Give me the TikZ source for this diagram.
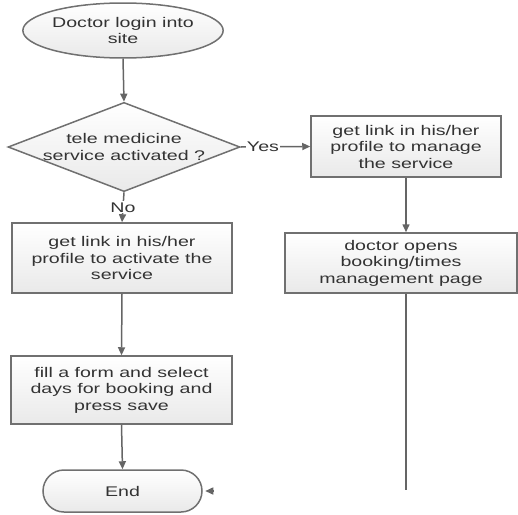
\documentclass[tikz,border=0pt]{standalone}
\usepackage{fontspec}
\usetikzlibrary{shapes.geometric,arrows.meta,calc}
\newfontfamily\wf[FakeStretch=1.4]{Liberation Sans}
\definecolor{edge}{HTML}{707070}
\definecolor{txt}{HTML}{333333}
\definecolor{fillb}{HTML}{E9E9E9}
\tikzset{
  base/.style={draw=edge, line width=1.5pt, top color=white, bottom color=fillb,
    text=txt, font=\wf\fontsize{14}{16.5}\selectfont, align=center, inner sep=0pt},
  procbox/.style={base, rectangle},
  startshape/.style={base, ellipse},
  decshape/.style={base, diamond, aspect=2.6},
  endshape/.style={base, rectangle, rounded corners=21pt},
  conn/.style={draw=edge!90!black, line width=1.5pt, -{Triangle[length=8pt,width=7pt]}},
  plainconn/.style={draw=edge!90!black, line width=1.5pt},
  lbl/.style={fill=white, text=txt, font=\wf\fontsize{14}{16}\selectfont, inner sep=1pt}
}
\begin{document}
\begin{tikzpicture}[x=1pt,y=-1pt]
\useasboundingbox (0,0) rectangle (518,514);
\node[startshape, minimum width=195pt, minimum height=55pt] (start) at (123,30.5) {Doctor login into\\site};
\node[decshape, minimum width=218pt, minimum height=83pt] (dec) at (124,147) {tele medicine\\service activated ?};
\node[procbox, minimum width=220pt, minimum height=70pt] (act) at (122,258) {get link in his/her\\profile to activate the\\service};
\node[procbox, minimum width=221pt, minimum height=68pt] (form) at (121.5,390) {fill a form and select\\days for booking and\\press save};
\node[endshape, minimum width=159pt, minimum height=42pt] (end) at (122.5,491) {End};
\node[procbox, minimum width=190pt, minimum height=61pt] (manage) at (406,146.5) {get link in his/her\\profile to manage\\the service};
\node[procbox, minimum width=232pt, minimum height=60pt] (opens) at (401,263) {doctor opens\\booking/times\\management page};
\coordinate (rend) at (406,490);
\coordinate (tipstart) at (213.5,491);

\draw[conn] (start.south) -- (dec.north);
\draw[conn] (dec.south) -- node[lbl, pos=0.5] {No} (act.north);
\draw[conn] (dec.east) -- node[lbl, pos=0.32] {Yes} (manage.west);
\draw[conn] (act.south) -- (form.north);
\draw[conn] (form.south) -- (end.north);
\draw[conn] (manage.south) -- (manage.south |- opens.north);
\draw[plainconn] (opens.south -| rend) -- (rend);
\draw[conn] (tipstart) -- ($(end.east)+(2.5,0)$);
\end{tikzpicture}
\end{document}
